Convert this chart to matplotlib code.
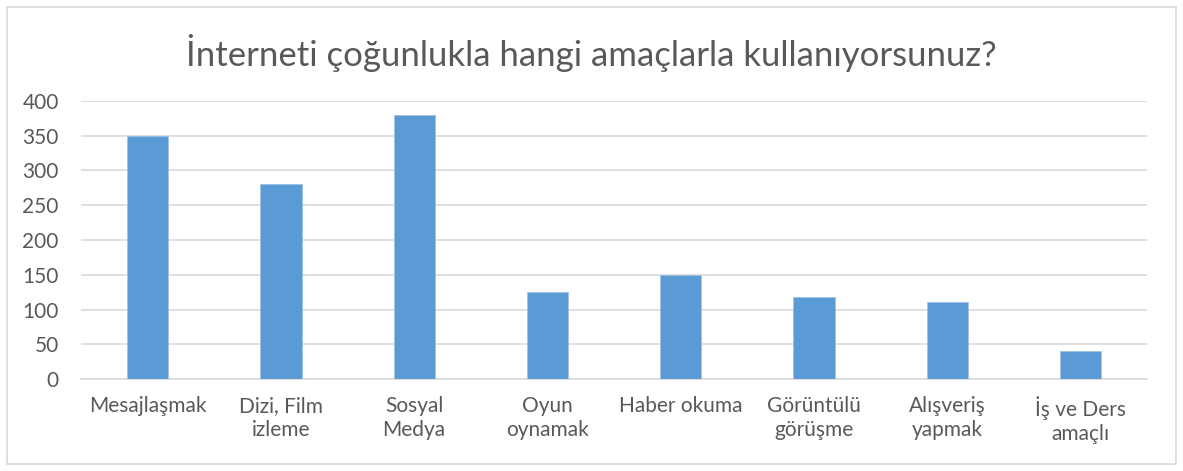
import matplotlib.pyplot as plt
from matplotlib.patches import Rectangle

categories = ['Mesajlaşmak', 'Dizi, Film\nizleme', 'Sosyal\nMedya', 'Oyun\noynamak',
              'Haber okuma', 'Görüntülü\ngörüşme', 'Alışveriş\nyapmak', 'İş ve Ders\namaçlı']
values = [349, 281, 380, 125, 150, 118, 111, 40]
yticks = [0, 50, 100, 150, 200, 250, 300, 350, 400]

plt.rcParams['font.family'] = ['Lato', 'DejaVu Sans']

fig = plt.figure(figsize=(11.83, 4.71), dpi=100)
ax = fig.add_axes([0.0685, 0.1953, 0.9011, 0.5903])

x = list(range(len(categories)))
ax.bar(x, values, width=0.31, color='#5B9BD5', edgecolor='#9DC3E6', linewidth=0.6, zorder=3)

ax.set_xlim(-0.5, len(categories) - 0.5)
ax.set_ylim(0, 400)
ax.set_yticks(yticks)
ax.set_xticks(x)
ax.set_xticklabels(categories, fontsize=15, color='#595959', linespacing=1.3)
ax.tick_params(axis='y', labelsize=15, labelcolor='#595959', length=0, pad=16)
ax.tick_params(axis='x', length=0, pad=12)
ax.grid(axis='y', color='#D9D9D9', linewidth=1.2, zorder=0)
for s in ['top', 'right', 'left']:
    ax.spines[s].set_visible(False)
ax.spines['bottom'].set_color('#D9D9D9')
ax.spines['bottom'].set_linewidth(1.2)

fig.text(0.5, 0.888, 'İnterneti çoğunlukla hangi amaçlarla kullanıyorsunuz?',
         ha='center', va='center', fontsize=25, color='#595959')

fig.patches.append(Rectangle((0.006, 0.015), 0.988, 0.97, transform=fig.transFigure,
                             fill=False, edgecolor='#D9D9D9', linewidth=1.2))

fig.savefig('out.png', dpi=100)
